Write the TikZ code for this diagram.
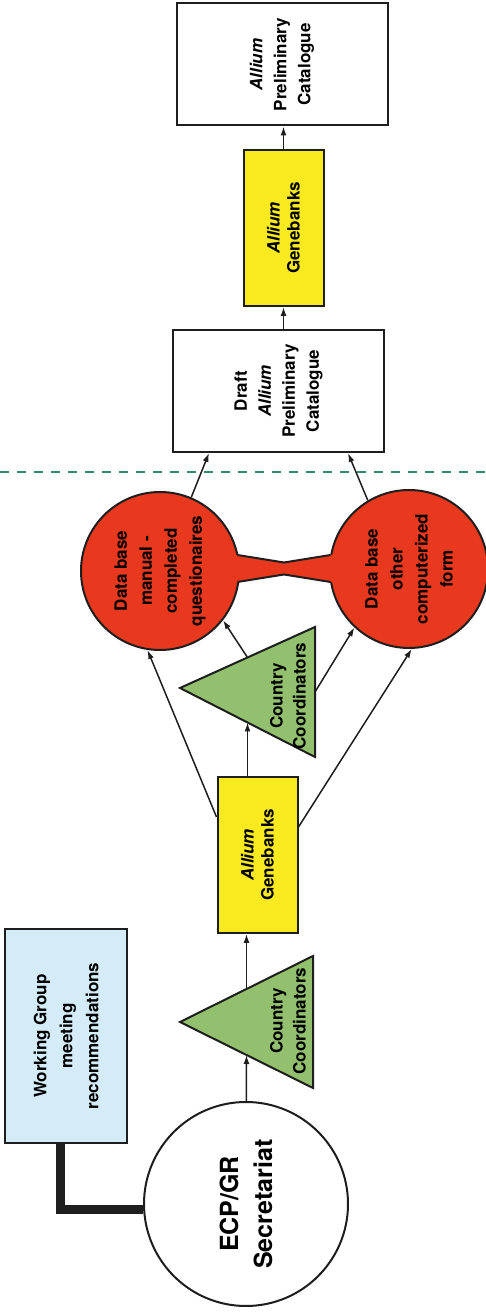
\documentclass[tikz,border=0pt]{standalone}
\usepackage{fontspec}
\setmainfont{TeX Gyre Heros}
\usetikzlibrary{arrows.meta,calc}
\definecolor{edge}{RGB}{30,30,30}
\definecolor{cBlue}{RGB}{212,236,247}
\definecolor{cYel}{RGB}{248,234,30}
\definecolor{cGrn}{RGB}{146,192,110}
\definecolor{cRed}{RGB}{232,56,30}
\definecolor{cDash}{RGB}{47,140,112}

\begin{document}
\begin{tikzpicture}[
    x=1pt, y=1pt, rotate=90, transform shape,
    lbl/.style={align=center,font=\bfseries\fontsize{17}{#1}\selectfont},
    lbl/.default=24,
    box/.style={rectangle,draw=edge,line width=2pt,inner sep=0pt},
    bank/.style={box,fill=cYel,minimum width=156pt,minimum height=80pt,lbl=20},
    cat/.style={box,fill=white,minimum width=122pt,minimum height=211pt,lbl=24},
    db/.style={circle,draw=edge,line width=2pt,fill=cRed,minimum size=158pt,inner sep=0pt,lbl=25},
    tri/.style={fill=cGrn,draw=edge,line width=2pt,line join=miter},
    flow/.style={-{Latex[length=9pt,width=6pt]},line width=1.5pt,draw=edge}
  ]
  \useasboundingbox (0,0) rectangle (1312,-486);

  % planning side
  \node[box,fill=cBlue,minimum width=214pt,minimum height=122pt,lbl=26] (wg) at (276,-66)
    {Working Group\\meeting\\recommendations};
  \node[circle,draw=edge,line width=2pt,fill=white,minimum size=204pt,inner sep=0pt,
    align=center,font=\bfseries\fontsize{25}{34}\selectfont] (ecp) at (108,-246) {ECP/GR\\Secretariat};
  \draw[line width=9pt,edge] ($(wg.west)+(0,6)$) -| ($(ecp.north)+(-6,0)$);

  \coordinate (cc1apex) at (290,-180);
  \coordinate (cc1l) at (224,-313);
  \coordinate (cc1r) at (356,-313);
  \filldraw[tri] (cc1l) -- (cc1apex) -- (cc1r) -- cycle;
  \node[lbl=23] (cc1) at (291,-288) {Country\\Coordinators};
  \coordinate (cc1in) at ($(cc1l)!0.5!(cc1apex)$);
  \coordinate (cc1out) at ($(cc1r)!0.5!(cc1apex)$);

  \node[bank] (gb1) at (457,-257.5) {\textit{Allium}\\Genebanks};

  \coordinate (cc2apex) at (624,-180);
  \coordinate (cc2l) at (555,-315);
  \coordinate (cc2r) at (685,-315);
  \filldraw[tri] (cc2l) -- (cc2apex) -- (cc2r) -- cycle;
  \node[lbl=23] (cc2) at (616,-288) {Country\\Coordinators};
  \coordinate (cc2in) at ($(cc2l)!0.5!(cc2apex)$);
  \coordinate (cc2out) at ($(cc2r)!0.5!(cc2apex)$);
  \coordinate (cc2base) at ($(cc2l)!0.5!(cc2r)$);

  % the two data bases and their link
  \node[db] (db1) at (741,-160) {Data base\\manual -\\completed\\questionaires};
  \node[db] (db2) at (743,-409) {Data base\\other\\computerized\\form};
  \fill[cRed] (730,-225) -- (730,-237) -- (737.5,-284) -- (730,-331) -- (730,-343)
    -- (757,-343) -- (757,-331) -- (749.5,-284) -- (757,-237) -- (757,-225) -- cycle;
  \draw[edge,line width=2pt] (730,-237.5) -- (737.5,-284) -- (730,-330.5);
  \draw[edge,line width=2pt] (757,-237.5) -- (749.5,-284) -- (757,-330.5);

  \draw[cDash,line width=2pt,dash pattern=on 9pt off 8pt] (840,0) -- (840,-486);

  % catalogue side
  \node[cat] (draft) at (921,-278.5) {Draft\\\textit{Allium}\\Preliminary\\Catalogue};
  \node[bank] (gb2) at (1084,-283.5) {\textit{Allium}\\Genebanks};
  \node[cat] (final) at (1247.5,-282) {\textit{Allium}\\Preliminary\\Catalogue};

  \draw[flow] (ecp) -- (cc1in);
  \draw[flow] (cc1out) -- (cc1out -| gb1.west);
  \draw[flow] (gb1.east |- cc2in) -- (cc2in);
  \draw[flow] ($(gb1.north east)+(-41,0)$) -- (db1.171);
  \draw[flow] ($(gb1.south east)+(-51,0)$) -- (db2.182);
  \draw[flow] (cc2out) -- (db1.232);
  \draw[flow] (cc2base) -- (db2.137);
  \draw[flow] (db1.-23) -- ($(draft.north west)+(0,-37)$);
  \draw[flow] (db2.31) -- ($(draft.south west)+(0,37)$);
  \draw[flow] (gb2.west -| draft.east) -- (gb2.west);
  \draw[flow] (gb2.east) -- (gb2.east -| final.west);
\end{tikzpicture}
\end{document}
